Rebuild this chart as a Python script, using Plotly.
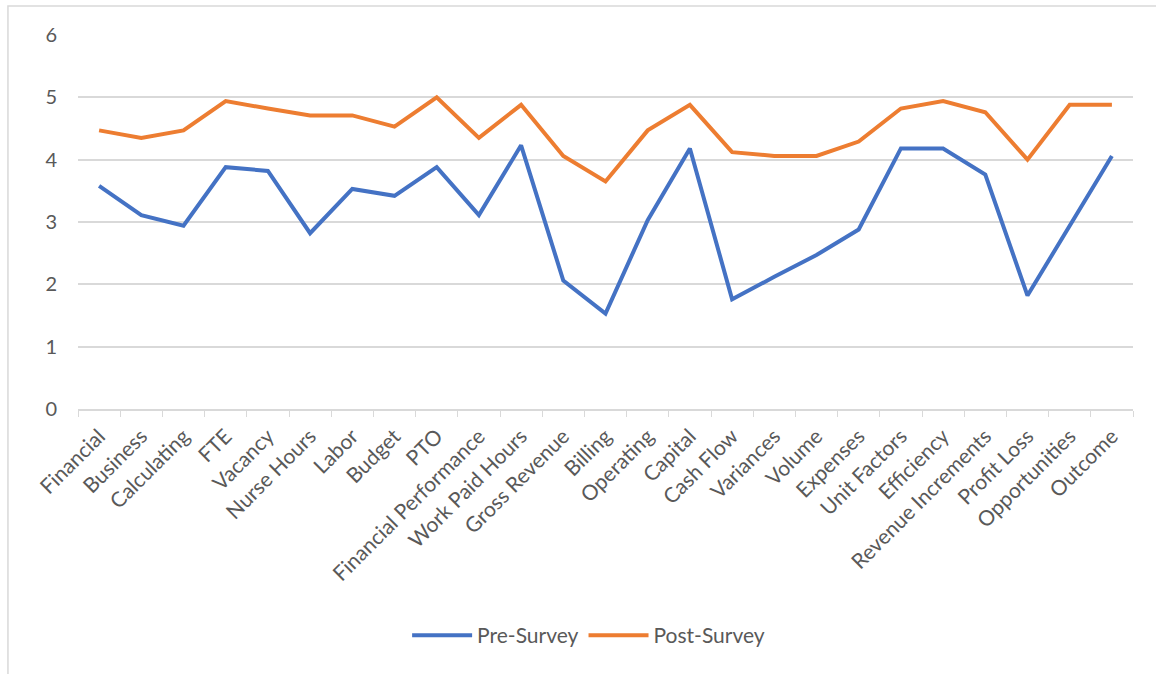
import plotly.graph_objects as go

categories = [
    "Financial", "Business", "Calculating", "FTE", "Vacancy", "Nurse Hours",
    "Labor", "Budget", "PTO", "Financial Performance", "Work Paid Hours",
    "Gross Revenue", "Billing", "Operating", "Capital", "Cash Flow",
    "Variances", "Volume", "Expenses", "Unit Factors", "Efficiency",
    "Revenue Increments", "Profit Loss", "Opportunities", "Outcome",
]
pre_survey = [
    3.58, 3.11, 2.94, 3.88, 3.82, 2.82, 3.53, 3.42, 3.88, 3.11, 4.23,
    2.06, 1.53, 3.03, 4.18, 1.76, 2.12, 2.47, 2.88, 4.18, 4.18,
    3.76, 1.82, 2.94, 4.06,
]
post_survey = [
    4.47, 4.35, 4.47, 4.94, 4.82, 4.71, 4.71, 4.53, 5.00, 4.35, 4.88,
    4.06, 3.65, 4.47, 4.88, 4.12, 4.06, 4.06, 4.29, 4.82, 4.94,
    4.76, 4.00, 4.88, 4.88,
]
y_ticks = [0, 1, 2, 3, 4, 5, 6]

BLUE = "#4472C4"
ORANGE = "#ED7D31"
GRID = "#D9D9D9"
TEXT = "#595959"
FONT = "Lato"

fig = go.Figure()
fig.add_trace(go.Scatter(x=categories, y=pre_survey, mode="lines",
                         name="Pre-Survey",
                         line=dict(color=BLUE, width=4)))
fig.add_trace(go.Scatter(x=categories, y=post_survey, mode="lines",
                         name="Post-Survey",
                         line=dict(color=ORANGE, width=4)))

fig.update_layout(
    width=1156, height=674,
    margin=dict(l=78, r=23, t=35, b=265),
    paper_bgcolor="white", plot_bgcolor="white",
    font=dict(family=FONT, size=19, color=TEXT),
    showlegend=True,
    legend=dict(orientation="h", x=0.484, xanchor="center",
                y=-0.606, yanchor="middle",
                font=dict(size=21, color=TEXT),
                itemwidth=60, bgcolor="rgba(0,0,0,0)"),
    shapes=[dict(type="rect", xref="paper", yref="paper",
                 x0=-0.0664, x1=1.03, y0=-0.73, y1=1.0775,
                 line=dict(color=GRID, width=1.5), layer="below")],
)

fig.update_xaxes(
    type="category", tickangle=-45, tickson="boundaries",
    ticks="outside", ticklen=6, tickcolor=GRID,
    showline=True, linecolor=GRID, linewidth=1.5,
    showgrid=False, tickfont=dict(size=21, color=TEXT),
    ticklabelstandoff=5,
    range=[-0.5, len(categories) - 0.5],
)
fig.update_yaxes(
    range=[0, 6], tickvals=y_ticks, showgrid=True, gridcolor=GRID,
    gridwidth=1.5, zeroline=False, showline=False,
    tickfont=dict(size=20, color=TEXT), ticklabelstandoff=20,
)

fig.write_html("out.html")
